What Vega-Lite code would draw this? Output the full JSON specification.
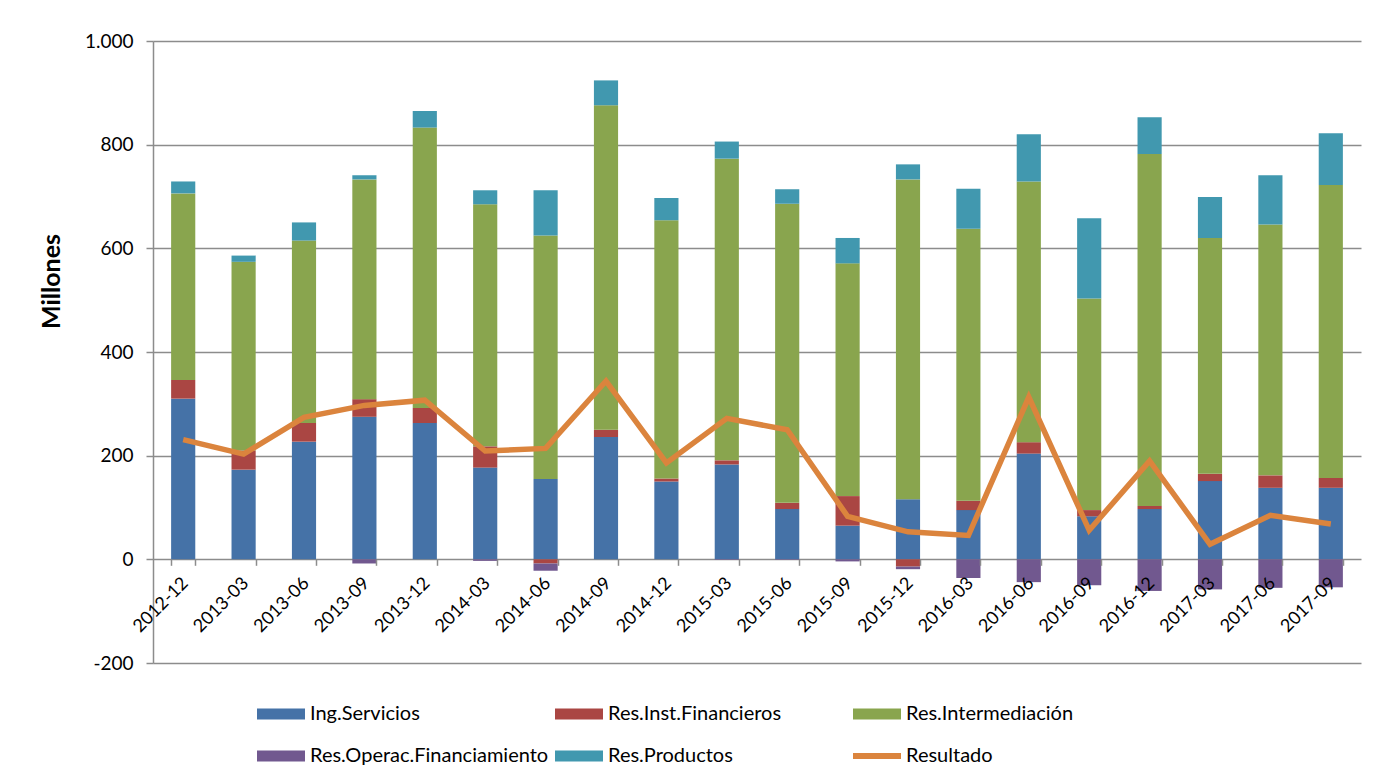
{
  "$schema": "https://vega.github.io/schema/vega-lite/v6.json",
  "width": 1208,
  "height": 622,
  "autosize": {"type": "none"},
  "padding": {"left": 153, "top": 41, "right": 15, "bottom": 117},
  "background": "white",
  "config": {
    "font": "Lato",
    "view": {"stroke": null},
    "axis": {"labelColor": "black", "titleColor": "black", "domainColor": "#8c8c8c", "tickColor": "#8c8c8c", "gridColor": "#8c8c8c", "domainWidth": 1.5, "tickWidth": 1.5, "gridWidth": 1.5}
  },
  "data": {
    "values": [
      {"p": "2012-12", "s": "Ing.Servicios", "v": 310}, {"p": "2012-12", "s": "Res.Inst.Financieros", "v": 36}, {"p": "2012-12", "s": "Res.Intermediación", "v": 360}, {"p": "2012-12", "s": "Res.Operac.Financiamiento", "v": 0}, {"p": "2012-12", "s": "Res.Productos", "v": 23}, {"p": "2012-12", "s": "Resultado", "v": 231},
      {"p": "2013-03", "s": "Ing.Servicios", "v": 173}, {"p": "2013-03", "s": "Res.Inst.Financieros", "v": 37}, {"p": "2013-03", "s": "Res.Intermediación", "v": 364}, {"p": "2013-03", "s": "Res.Operac.Financiamiento", "v": 0}, {"p": "2013-03", "s": "Res.Productos", "v": 12}, {"p": "2013-03", "s": "Resultado", "v": 203},
      {"p": "2013-06", "s": "Ing.Servicios", "v": 227}, {"p": "2013-06", "s": "Res.Inst.Financieros", "v": 36}, {"p": "2013-06", "s": "Res.Intermediación", "v": 352}, {"p": "2013-06", "s": "Res.Operac.Financiamiento", "v": 0}, {"p": "2013-06", "s": "Res.Productos", "v": 35}, {"p": "2013-06", "s": "Resultado", "v": 274},
      {"p": "2013-09", "s": "Ing.Servicios", "v": 275}, {"p": "2013-09", "s": "Res.Inst.Financieros", "v": 34}, {"p": "2013-09", "s": "Res.Intermediación", "v": 424}, {"p": "2013-09", "s": "Res.Operac.Financiamiento", "v": -8}, {"p": "2013-09", "s": "Res.Productos", "v": 8}, {"p": "2013-09", "s": "Resultado", "v": 297},
      {"p": "2013-12", "s": "Ing.Servicios", "v": 263}, {"p": "2013-12", "s": "Res.Inst.Financieros", "v": 29}, {"p": "2013-12", "s": "Res.Intermediación", "v": 541}, {"p": "2013-12", "s": "Res.Operac.Financiamiento", "v": 0}, {"p": "2013-12", "s": "Res.Productos", "v": 32}, {"p": "2013-12", "s": "Resultado", "v": 307},
      {"p": "2014-03", "s": "Ing.Servicios", "v": 177}, {"p": "2014-03", "s": "Res.Inst.Financieros", "v": 41}, {"p": "2014-03", "s": "Res.Intermediación", "v": 467}, {"p": "2014-03", "s": "Res.Operac.Financiamiento", "v": -3}, {"p": "2014-03", "s": "Res.Productos", "v": 27}, {"p": "2014-03", "s": "Resultado", "v": 209},
      {"p": "2014-06", "s": "Ing.Servicios", "v": 155}, {"p": "2014-06", "s": "Res.Inst.Financieros", "v": -8}, {"p": "2014-06", "s": "Res.Intermediación", "v": 470}, {"p": "2014-06", "s": "Res.Operac.Financiamiento", "v": -14}, {"p": "2014-06", "s": "Res.Productos", "v": 87}, {"p": "2014-06", "s": "Resultado", "v": 214},
      {"p": "2014-09", "s": "Ing.Servicios", "v": 236}, {"p": "2014-09", "s": "Res.Inst.Financieros", "v": 14}, {"p": "2014-09", "s": "Res.Intermediación", "v": 626}, {"p": "2014-09", "s": "Res.Operac.Financiamiento", "v": 0}, {"p": "2014-09", "s": "Res.Productos", "v": 48}, {"p": "2014-09", "s": "Resultado", "v": 344},
      {"p": "2014-12", "s": "Ing.Servicios", "v": 150}, {"p": "2014-12", "s": "Res.Inst.Financieros", "v": 6}, {"p": "2014-12", "s": "Res.Intermediación", "v": 498}, {"p": "2014-12", "s": "Res.Operac.Financiamiento", "v": 0}, {"p": "2014-12", "s": "Res.Productos", "v": 43}, {"p": "2014-12", "s": "Resultado", "v": 186},
      {"p": "2015-03", "s": "Ing.Servicios", "v": 183}, {"p": "2015-03", "s": "Res.Inst.Financieros", "v": 8}, {"p": "2015-03", "s": "Res.Intermediación", "v": 582}, {"p": "2015-03", "s": "Res.Operac.Financiamiento", "v": -1}, {"p": "2015-03", "s": "Res.Productos", "v": 33}, {"p": "2015-03", "s": "Resultado", "v": 272},
      {"p": "2015-06", "s": "Ing.Servicios", "v": 97}, {"p": "2015-06", "s": "Res.Inst.Financieros", "v": 12}, {"p": "2015-06", "s": "Res.Intermediación", "v": 577}, {"p": "2015-06", "s": "Res.Operac.Financiamiento", "v": -1}, {"p": "2015-06", "s": "Res.Productos", "v": 28}, {"p": "2015-06", "s": "Resultado", "v": 250},
      {"p": "2015-09", "s": "Ing.Servicios", "v": 65}, {"p": "2015-09", "s": "Res.Inst.Financieros", "v": 57}, {"p": "2015-09", "s": "Res.Intermediación", "v": 449}, {"p": "2015-09", "s": "Res.Operac.Financiamiento", "v": -4}, {"p": "2015-09", "s": "Res.Productos", "v": 49}, {"p": "2015-09", "s": "Resultado", "v": 83},
      {"p": "2015-12", "s": "Ing.Servicios", "v": 116}, {"p": "2015-12", "s": "Res.Inst.Financieros", "v": -14}, {"p": "2015-12", "s": "Res.Intermediación", "v": 617}, {"p": "2015-12", "s": "Res.Operac.Financiamiento", "v": -5}, {"p": "2015-12", "s": "Res.Productos", "v": 29}, {"p": "2015-12", "s": "Resultado", "v": 53},
      {"p": "2016-03", "s": "Ing.Servicios", "v": 95}, {"p": "2016-03", "s": "Res.Inst.Financieros", "v": 18}, {"p": "2016-03", "s": "Res.Intermediación", "v": 525}, {"p": "2016-03", "s": "Res.Operac.Financiamiento", "v": -36}, {"p": "2016-03", "s": "Res.Productos", "v": 77}, {"p": "2016-03", "s": "Resultado", "v": 46},
      {"p": "2016-06", "s": "Ing.Servicios", "v": 204}, {"p": "2016-06", "s": "Res.Inst.Financieros", "v": 22}, {"p": "2016-06", "s": "Res.Intermediación", "v": 503}, {"p": "2016-06", "s": "Res.Operac.Financiamiento", "v": -44}, {"p": "2016-06", "s": "Res.Productos", "v": 91}, {"p": "2016-06", "s": "Resultado", "v": 313},
      {"p": "2016-09", "s": "Ing.Servicios", "v": 83}, {"p": "2016-09", "s": "Res.Inst.Financieros", "v": 12}, {"p": "2016-09", "s": "Res.Intermediación", "v": 408}, {"p": "2016-09", "s": "Res.Operac.Financiamiento", "v": -50}, {"p": "2016-09", "s": "Res.Productos", "v": 155}, {"p": "2016-09", "s": "Resultado", "v": 56},
      {"p": "2016-12", "s": "Ing.Servicios", "v": 97}, {"p": "2016-12", "s": "Res.Inst.Financieros", "v": 6}, {"p": "2016-12", "s": "Res.Intermediación", "v": 679}, {"p": "2016-12", "s": "Res.Operac.Financiamiento", "v": -61}, {"p": "2016-12", "s": "Res.Productos", "v": 71}, {"p": "2016-12", "s": "Resultado", "v": 190},
      {"p": "2017-03", "s": "Ing.Servicios", "v": 151}, {"p": "2017-03", "s": "Res.Inst.Financieros", "v": 14}, {"p": "2017-03", "s": "Res.Intermediación", "v": 455}, {"p": "2017-03", "s": "Res.Operac.Financiamiento", "v": -58}, {"p": "2017-03", "s": "Res.Productos", "v": 79}, {"p": "2017-03", "s": "Resultado", "v": 29},
      {"p": "2017-06", "s": "Ing.Servicios", "v": 138}, {"p": "2017-06", "s": "Res.Inst.Financieros", "v": 24}, {"p": "2017-06", "s": "Res.Intermediación", "v": 484}, {"p": "2017-06", "s": "Res.Operac.Financiamiento", "v": -55}, {"p": "2017-06", "s": "Res.Productos", "v": 95}, {"p": "2017-06", "s": "Resultado", "v": 85},
      {"p": "2017-09", "s": "Ing.Servicios", "v": 138}, {"p": "2017-09", "s": "Res.Inst.Financieros", "v": 19}, {"p": "2017-09", "s": "Res.Intermediación", "v": 565}, {"p": "2017-09", "s": "Res.Operac.Financiamiento", "v": -54}, {"p": "2017-09", "s": "Res.Productos", "v": 100}, {"p": "2017-09", "s": "Resultado", "v": 68}
    ]
  },
  "encoding": {
    "x": {
      "field": "p", "type": "ordinal",
      "scale": {"paddingInner": 0.6, "paddingOuter": 0.3},
      "axis": {"title": null, "offset": -103.7, "zindex": 1, "domain": false, "labelAngle": -45, "labelAlign": "right", "labelBaseline": "middle", "labelFontSize": 18, "labelPadding": 15, "labelOffset": 2, "tickBand": "extent", "tickSize": 6, "grid": false}
    },
    "y": {
      "field": "v", "type": "quantitative",
      "scale": {"domain": [-200, 1000], "nice": false, "zero": false},
      "axis": {"title": "Millones", "titleFontSize": 25, "titleFontWeight": "bold", "titlePadding": 20, "titleY": 240, "values": [-200, 0, 200, 400, 600, 800, 1000], "labelExpr": "datum.value == 1000 ? '1.000' : (datum.value < 0 ? '-' + abs(datum.value) : '' + datum.value)", "labelFontSize": 19, "labelPadding": 13, "tickSize": 7, "grid": true}
    }
  },
  "layer": [
    {
      "transform": [{"filter": "datum.s !== 'Resultado'"}],
      "mark": {"type": "bar", "strokeWidth": 0},
      "encoding": {
        "color": {
          "field": "s", "type": "nominal",
          "scale": {
            "domain": ["Ing.Servicios", "Res.Inst.Financieros", "Res.Intermediación", "Res.Operac.Financiamiento", "Res.Productos", "Resultado"],
            "range": ["#4572A7", "#AA4643", "#89A54E", "#71588F", "#4198AF", "#DB843D"]
          },
          "legend": {
            "orient": "none", "legendX": 104, "legendY": 649, "direction": "horizontal", "columns": 3, "title": null,
            "labelFontSize": 20, "labelColor": "black", "labelLimit": 400, "labelOffset": 5,
            "symbolType": "M-1,-0.23H1V0.23H-1Z", "symbolSize": 2304, "symbolStrokeWidth": 0, "symbolOpacity": 1,
            "columnPadding": 6, "rowPadding": 8, "gridAlign": "all",
            "encode": {"symbols": {"update": {"shape": {"signal": "datum.value === 'Resultado' ? 'M-1,-0.12H1V0.12H-1Z' : 'M-1,-0.23H1V0.23H-1Z'"}}}}
          }
        },
        "order": {"field": "s", "sort": "ascending"}
      }
    },
    {
      "transform": [{"filter": "datum.s === 'Resultado'"}],
      "mark": {"type": "line", "color": "#DB843D", "strokeWidth": 5.5},
      "encoding": {}
    }
  ]
}
